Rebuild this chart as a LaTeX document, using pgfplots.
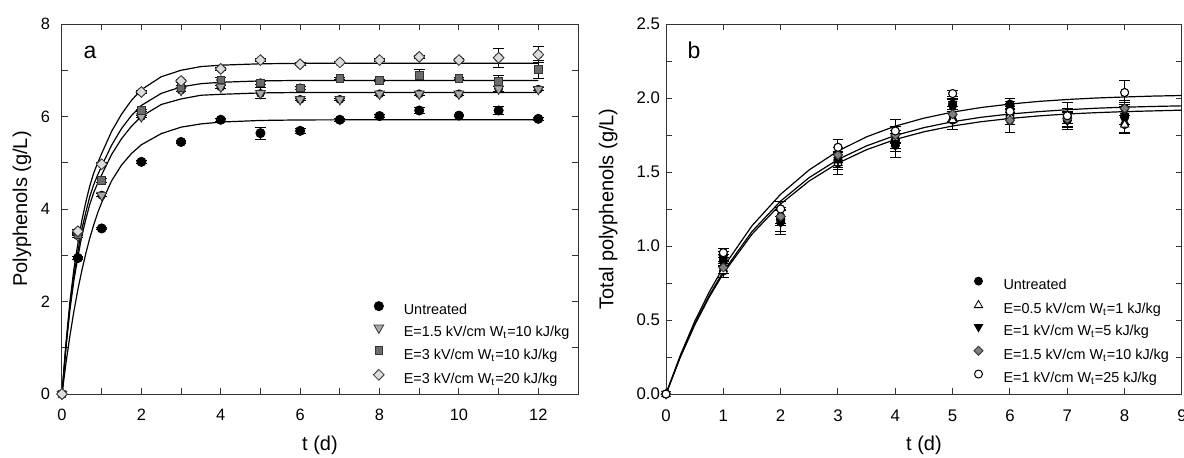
\documentclass[border=0pt]{standalone}
\usepackage{fontspec}
\setmainfont{Liberation Sans}
\usepackage{pgfplots}
\usepackage{pgfplotstable}
\pgfplotsset{compat=1.18}
\definecolor{axgray}{HTML}{333333}
\definecolor{trigray}{HTML}{A9A9A9}
\definecolor{sqgray}{HTML}{6B6B6B}
\definecolor{diagray}{HTML}{DCDCDC}
\definecolor{rdiagray}{HTML}{808080}

% ---------- panel a data (t, value, error) ----------
\pgfplotstableread{
x y e
0 0 0
0.4 2.94 0.03
1 3.58 0.03
2 5.02 0.03
3 5.45 0.03
4 5.93 0.03
5 5.64 0.13
6 5.69 0.05
7 5.93 0.03
8 6.01 0.03
9 6.13 0.07
10 6.02 0.03
11 6.13 0.09
12 5.95 0.03
}\aUntr
\pgfplotstableread{
x y e
0 0 0
0.4 3.42 0.03
1 4.30 0.03
2 6.00 0.03
3 6.57 0.03
4 6.64 0.03
5 6.50 0.12
6 6.37 0.03
7 6.37 0.03
8 6.49 0.03
9 6.49 0.03
10 6.49 0.03
11 6.60 0.05
12 6.59 0.03
}\aTri
\pgfplotstableread{
x y e
0 0 0
0.4 3.45 0.03
1 4.62 0.05
2 6.13 0.03
3 6.63 0.03
4 6.79 0.05
5 6.73 0.03
6 6.62 0.03
7 6.82 0.03
8 6.78 0.03
9 6.89 0.12
10 6.82 0.03
11 6.76 0.12
12 7.02 0.20
}\aSq
\pgfplotstableread{
x y e
0 0 0
0.4 3.52 0.03
1 4.97 0.03
2 6.53 0.03
3 6.77 0.03
4 7.03 0.03
5 7.22 0.03
6 7.13 0.03
7 7.17 0.03
8 7.22 0.03
9 7.29 0.03
10 7.22 0.03
11 7.27 0.20
12 7.34 0.18
}\aDia

% ---------- panel b data ----------
\pgfplotstableread{
x y e
0 0 0
1 0.90 0.04
2 1.18 0.08
3 1.58 0.05
4 1.68 0.08
5 1.95 0.04
6 1.95 0.05
7 1.85 0.06
8 1.87 0.10
}\bUntr
\pgfplotstableread{
x y e
0 0 0
1 0.83 0.04
2 1.20 0.06
3 1.56 0.08
4 1.72 0.06
5 1.85 0.06
6 1.88 0.06
7 1.88 0.05
8 1.82 0.06
}\bTriU
\pgfplotstableread{
x y e
0 0 0
1 0.92 0.04
2 1.16 0.08
3 1.58 0.06
4 1.70 0.06
5 1.96 0.04
6 1.96 0.04
7 1.85 0.05
8 1.88 0.06
}\bTriD
\pgfplotstableread{
x y e
0 0 0
1 0.855 0.04
2 1.20 0.05
3 1.615 0.05
4 1.75 0.06
5 1.89 0.05
6 1.85 0.08
7 1.86 0.05
8 1.93 0.05
}\bDia
\pgfplotstableread{
x y e
0 0 0
1 0.955 0.03
2 1.25 0.05
3 1.667 0.05
4 1.777 0.08
5 2.03 0.02
6 1.91 0.05
7 1.88 0.09
8 2.037 0.08
}\bHex

\pgfplotsset{
  myaxis/.style={
    scale only axis, width=258pt, height=185pt,
    axis line style={axgray, line width=0.5pt},
    tick style={axgray, line width=0.5pt},
    tick align=inside, major tick length=3pt, minor tick length=3pt,
    tick label style={font=\fontsize{8.2}{9.5}\selectfont},
    /pgf/number format/assume math mode=true,
    label style={font=\fontsize{10}{12}\selectfont},
    xticklabel style={yshift=-4.2pt},
    xlabel style={at={(axis description cs:0.5,-0.138)}, anchor=center},
    clip=false,
    legend cell align=left,
    legend style={draw=none, fill=none, inner sep=0pt,
      font=\fontsize{7.2}{8.6}\selectfont,
      nodes={inner sep=0pt, text height=5.5pt, text depth=2pt},
      /tikz/every odd column/.style={column sep=8.3pt}},
    legend image code/.code={\path (-4pt,0pt) (4pt,0pt); \draw[#1,mark repeat=1] plot coordinates {(0pt,2.6pt)};},
  },
  fitline/.style={black, line width=0.6pt, no marks, forget plot},
  ebars/.style={forget plot, only marks, mark=none,
    error bars/.cd, y dir=both, y explicit,
    error bar style={black, line width=0.5pt},
    error mark options={rotate=90, mark size=2.7pt, line width=0.5pt, black}},
}

\begin{document}
\begin{tikzpicture}
\path[use as bounding box] (0pt,0pt) rectangle (592pt,-228.5pt);

% ================= panel a =================
\begin{axis}[myaxis, at={(31pt,-197pt)}, anchor=south west,
  xmin=0, xmax=13, ymin=0, ymax=8,
  xtick={0,2,4,6,8,10,12}, minor x tick num=1,
  ytick={0,2,4,6,8}, minor y tick num=1,
  yticklabel style={xshift=-2.5pt},
  xlabel={t (d)}, ylabel={Polyphenols (g/L)},
  ylabel style={at={(axis description cs:-0.0775,0.5)}, anchor=center},
  legend style={at={(axis description cs:0.597,0.251)}, anchor=north west, row sep=3.1pt},
]
\addplot[fitline] coordinates {(0,0)(0.1,0.67)(0.2,1.26)(0.3,1.79)(0.4,2.26)(0.5,2.67)(0.6,3.04)(0.7,3.37)(0.8,3.66)(0.9,3.92)(1,4.14)(1.25,4.61)(1.5,4.95)(1.75,5.20)(2,5.39)(2.5,5.63)(3,5.77)(3.5,5.84)(4,5.88)(5,5.915)(6,5.926)(8,5.93)(12,5.93)};
\addplot[fitline] coordinates {(0,0)(0.1,1.00)(0.2,1.82)(0.3,2.46)(0.4,2.96)(0.5,3.42)(0.6,3.78)(0.7,4.10)(0.8,4.36)(0.9,4.56)(1,4.74)(1.25,5.18)(1.5,5.52)(1.75,5.79)(2,6.00)(2.5,6.26)(3,6.38)(3.5,6.46)(4,6.48)(5,6.51)(6,6.52)(12,6.52)};
\addplot[fitline] coordinates {(0,0)(0.1,1.04)(0.2,1.90)(0.3,2.56)(0.4,3.08)(0.5,3.56)(0.6,3.93)(0.7,4.27)(0.8,4.53)(0.9,4.74)(1,4.93)(1.25,5.38)(1.5,5.74)(1.75,6.02)(2,6.24)(2.5,6.50)(3,6.64)(3.5,6.71)(4,6.74)(5,6.77)(6,6.78)(12,6.78)};
\addplot[fitline] coordinates {(0,0)(0.1,1.1)(0.2,2.0)(0.3,2.7)(0.4,3.25)(0.5,3.75)(0.6,4.15)(0.7,4.5)(0.8,4.78)(0.9,5.0)(1,5.2)(1.25,5.68)(1.5,6.05)(1.75,6.35)(2,6.58)(2.5,6.86)(3,7.0)(3.5,7.08)(4,7.11)(5,7.14)(6,7.15)(12,7.15)};

\addplot[ebars] table[x=x, y=y, y error=e] {\aUntr};
\addplot[ebars] table[x=x, y=y, y error=e] {\aTri};
\addplot[ebars] table[x=x, y=y, y error=e] {\aSq};
\addplot[ebars] table[x=x, y=y, y error=e] {\aDia};

\addplot[only marks, mark=*, mark size=2.3pt, mark options={fill=black, draw=black}] table[x=x, y=y] {\aUntr};
\addlegendentry{Untreated}
\addplot[only marks, mark=triangle*, mark size=2.8pt, mark options={rotate=180, fill=trigray, draw=axgray, line width=0.4pt}] table[x=x, y=y] {\aTri};
\addlegendentry{E=1.5 kV/cm W\textsubscript{t}=10 kJ/kg}
\addplot[only marks, mark=square*, mark size=1.9pt, mark options={fill=sqgray, draw=axgray, line width=0.4pt}] table[x=x, y=y] {\aSq};
\addlegendentry{E=3 kV/cm W\textsubscript{t}=10 kJ/kg}
\addplot[only marks, mark=square*, mark size=1.9pt, mark options={rotate=45, fill=diagray, draw=axgray, line width=0.4pt}] table[x=x, y=y] {\aDia};
\addlegendentry{E=3 kV/cm W\textsubscript{t}=20 kJ/kg}

\node[anchor=base west, inner sep=0pt, font=\fontsize{11.5}{13}\selectfont] at (axis description cs:0.041,0.908) {a};
\end{axis}

% ================= panel b =================
\begin{axis}[myaxis, at={(333pt,-197pt)}, anchor=south west,
  xmin=0, xmax=9, ymin=0, ymax=2.5,
  xtick={0,1,2,3,4,5,6,7,8,9},
  ytick={0,0.5,1,1.5,2,2.5}, minor y tick num=1,
  tick label style={font=\fontsize{8.4}{9.5}\selectfont},
  yticklabel style={xshift=0.5pt, /pgf/number format/.cd, fixed, fixed zerofill, precision=1},
  xlabel={t (d)}, ylabel={Total polyphenols (g/L)},
  ylabel style={at={(axis description cs:-0.112,0.5)}, anchor=center},
  legend style={at={(axis description cs:0.5886,0.317)}, anchor=north west, row sep=3.3pt},
]
\addplot[fitline] coordinates {(0,0)(0.25,0.262)(0.5,0.490)(0.75,0.686)(1,0.857)(1.5,1.137)(2,1.350)(2.5,1.515)(3,1.642)(3.5,1.738)(4,1.810)(4.5,1.864)(5,1.905)(5.5,1.936)(6,1.959)(6.5,1.977)(7,1.990)(7.5,2.000)(8,2.007)(8.5,2.013)(9,2.017)};
\addplot[fitline] coordinates {(0,0)(0.25,0.253)(0.5,0.473)(0.75,0.663)(1,0.828)(1.5,1.098)(2,1.304)(2.5,1.463)(3,1.585)(3.5,1.677)(4,1.747)(4.5,1.800)(5,1.840)(5.5,1.870)(6,1.892)(6.5,1.908)(7,1.921)(7.5,1.931)(8,1.938)(8.5,1.943)(9,1.947)};
\addplot[fitline] coordinates {(0,0)(0.25,0.249)(0.5,0.465)(0.75,0.652)(1,0.815)(1.5,1.080)(2,1.284)(2.5,1.440)(3,1.560)(3.5,1.651)(4,1.720)(4.5,1.772)(5,1.811)(5.5,1.840)(6,1.862)(6.5,1.879)(7,1.892)(7.5,1.901)(8,1.908)(8.5,1.913)(9,1.918)};

\addplot[ebars] table[x=x, y=y, y error=e] {\bUntr};
\addplot[ebars] table[x=x, y=y, y error=e] {\bTriU};
\addplot[ebars] table[x=x, y=y, y error=e] {\bTriD};
\addplot[ebars] table[x=x, y=y, y error=e] {\bDia};
\addplot[ebars] table[x=x, y=y, y error=e] {\bHex};

\addplot[only marks, mark=*, mark size=2pt, mark options={fill=black, draw=black}] table[x=x, y=y] {\bUntr};
\addlegendentry{Untreated}
\addplot[only marks, mark=triangle*, mark size=2.4pt, mark options={fill=white, draw=black, line width=0.4pt}] table[x=x, y=y] {\bTriU};
\addlegendentry{E=0.5 kV/cm W\textsubscript{t}=1 kJ/kg}
\addplot[only marks, mark=triangle*, mark size=2.4pt, mark options={rotate=180, fill=black, draw=black}] table[x=x, y=y] {\bTriD};
\addlegendentry{E=1 kV/cm W\textsubscript{t}=5 kJ/kg}
\addplot[only marks, mark=square*, mark size=1.6pt, mark options={rotate=45, fill=rdiagray, draw=axgray, line width=0.4pt}] table[x=x, y=y] {\bDia};
\addlegendentry{E=1.5 kV/cm W\textsubscript{t}=10 kJ/kg}
\addplot[only marks, mark=*, mark size=2pt, mark options={fill=white, draw=black, line width=0.5pt}] table[x=x, y=y] {\bHex};
\addlegendentry{E=1 kV/cm W\textsubscript{t}=25 kJ/kg}

\node[anchor=base west, inner sep=0pt, font=\fontsize{11.5}{13}\selectfont] at (axis description cs:0.041,0.908) {b};
\end{axis}
\end{tikzpicture}
\end{document}
